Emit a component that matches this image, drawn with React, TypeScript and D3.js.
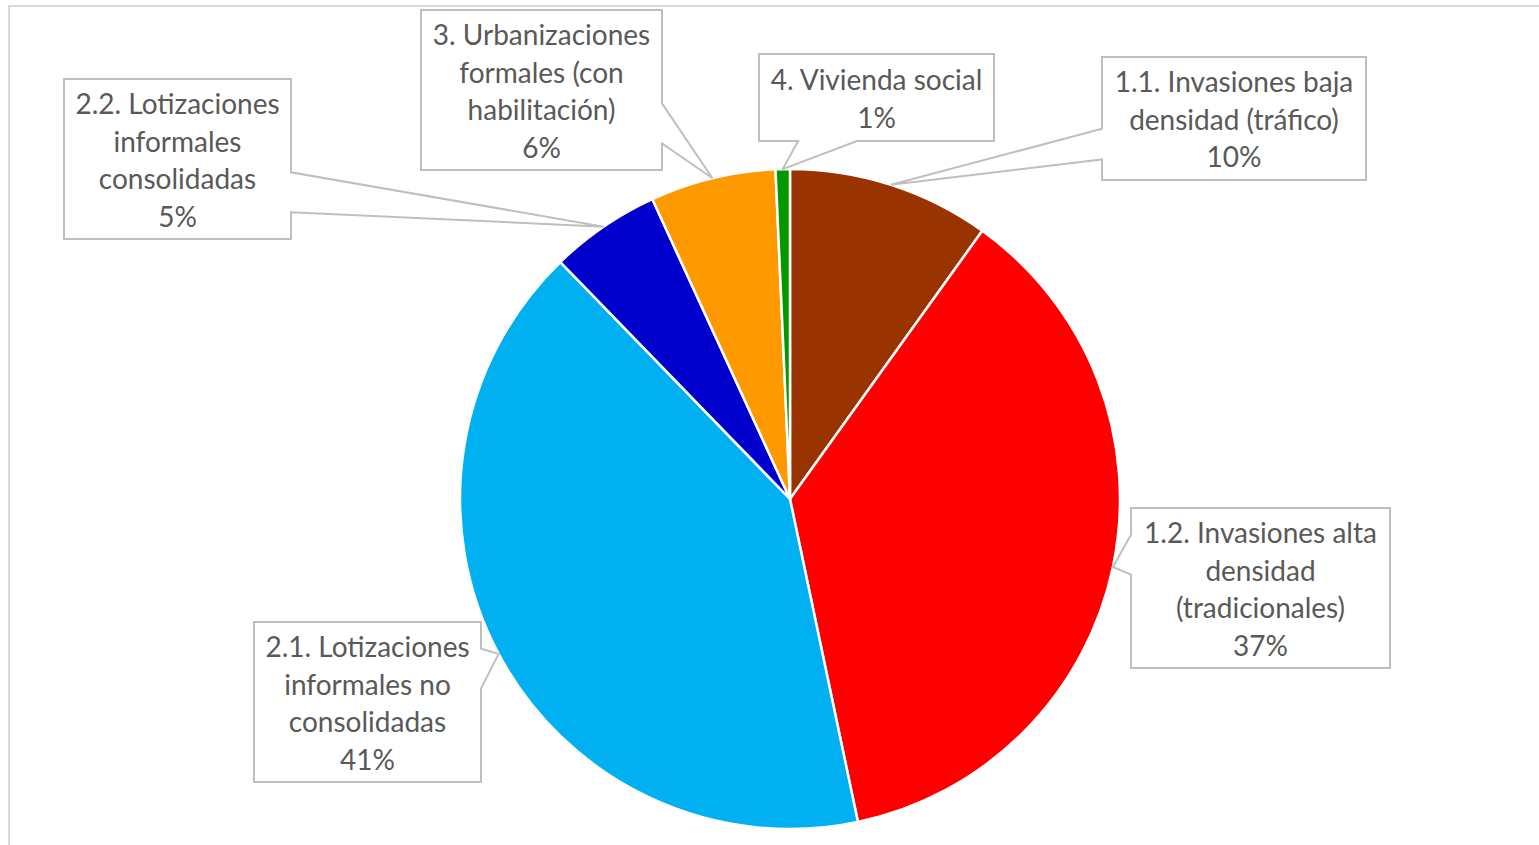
import React, { useEffect, useRef } from "react";
import * as d3 from "d3";

// slice order clockwise from 12 o'clock
const categories = [
  "1.1. Invasiones baja densidad (tráfico)",
  "1.2. Invasiones alta densidad (tradicionales)",
  "2.1. Lotizaciones informales no consolidadas",
  "2.2. Lotizaciones informales consolidadas",
  "3. Urbanizaciones formales (con habilitación)",
  "4. Vivienda social",
];
// label wrapping as in the original
const labelLines = [
  ["1.1. Invasiones baja", "densidad (tráfico)"],
  ["1.2. Invasiones alta", "densidad", "(tradicionales)"],
  ["2.1. Lotizaciones", "informales no", "consolidadas"],
  ["2.2. Lotizaciones", "informales", "consolidadas"],
  ["3. Urbanizaciones", "formales (con", "habilitación)"],
  ["4. Vivienda social"],
];
const values = [9.9, 36.8, 41.05, 5.4, 6.15, 0.7];
const colors = ["#993300", "#ff0000", "#00b0f0", "#0000cc", "#ff9900", "#009900"];

// manually placed callout boxes (x, y, w, h)
const boxes = [
  [1102, 57, 264, 123],
  [1131, 508, 259, 160],
  [254, 622, 227, 160],
  [64, 79, 227, 160],
  [421, 10, 241, 160],
  [759, 54, 235, 87],
];

type Pt = [number, number];

function calloutPath(b: number[], tip: Pt): string {
  const [x, y, w, h] = b;
  const [tx, ty] = tip;
  const pts: Pt[] = [];
  const tl: Pt = [x, y], tr: Pt = [x + w, y], br: Pt = [x + w, y + h], bl: Pt = [x, y + h];
  const lo = (f: number) => (f < 0.5 ? [2 / 12, 5 / 12] : [7 / 12, 10 / 12]);
  if (tx > x + w) {
    const [a, c] = lo((ty - y) / h);
    pts.push(tl, tr, [x + w, y + h * a], tip, [x + w, y + h * c], br, bl);
  } else if (tx < x) {
    const [a, c] = lo((ty - y) / h);
    pts.push(tl, tr, br, bl, [x, y + h * c], tip, [x, y + h * a]);
  } else if (ty > y + h) {
    const [a, c] = lo((tx - x) / w);
    pts.push(tl, tr, br, [x + w * c, y + h], tip, [x + w * a, y + h], bl);
  } else {
    const [a, c] = lo((tx - x) / w);
    pts.push(tl, [x + w * a, y], tip, [x + w * c, y], tr, br, bl);
  }
  return "M" + pts.map((p) => p.join(",")).join("L") + "Z";
}

const App: React.FC = () => {
  const ref = useRef<SVGSVGElement | null>(null);

  useEffect(() => {
    const svg = d3.select(ref.current);
    svg.selectAll("*").remove();

    const cx = 790;
    const cy = 499;
    const r = 330;

    // chart area border
    svg
      .append("rect")
      .attr("x", 9)
      .attr("y", 6)
      .attr("width", 1560)
      .attr("height", 900)
      .attr("fill", "#fff")
      .attr("stroke", "#d9d9d9")
      .attr("stroke-width", 2);

    const pie = d3
      .pie<number>()
      .sort(null)
      .value((d) => d);
    const arcs = pie(values);
    const arc = d3.arc<d3.PieArcDatum<number>>().innerRadius(0).outerRadius(r);

    const g = svg.append("g").attr("transform", `translate(${cx},${cy})`);
    g.selectAll("path")
      .data(arcs)
      .join("path")
      .attr("d", arc)
      .attr("fill", (_, i) => colors[i])
      .attr("stroke", "#fff")
      .attr("stroke-width", 2.5)
      .attr("stroke-linejoin", "round");

    const total = d3.sum(values);
    const fmt = (v: number) => `${Math.round((v / total) * 100)}%`;

    // callouts
    const labels = svg.append("g");
    arcs.forEach((a, i) => {
      const mid = (a.startAngle + a.endAngle) / 2;
      const tip: Pt = [cx + r * Math.sin(mid), cy - r * Math.cos(mid)];
      const b = boxes[i];
      labels
        .append("path")
        .attr("d", calloutPath(b, tip))
        .attr("fill", "#fff")
        .attr("stroke", "#bfbfbf")
        .attr("stroke-width", 2)
        .attr("stroke-linejoin", "miter");

      const lines = [...labelLines[i], fmt(values[i])];
      const lh = 37.5;
      const top = b[1] + b[3] / 2 - ((lines.length - 1) * lh) / 2;
      const t = labels
        .append("text")
        .attr("text-anchor", "middle")
        .attr("font-family", "Lato, 'Open Sans', sans-serif")
        .attr("font-size", 28)
        .attr("fill", "#595959");
      lines.forEach((ln, k) => {
        t.append("tspan")
          .attr("x", b[0] + b[2] / 2)
          .attr("y", top + k * lh + 1.5)
          .attr("dy", "0.35em")
          .text(ln);
      });
    });
  }, []);

  return (
    <svg
      ref={ref}
      width={1539}
      height={845}
      style={{ position: "absolute", left: 0, top: 0 }}
      aria-label={categories.join(", ")}
    />
  );
};

export default App;
